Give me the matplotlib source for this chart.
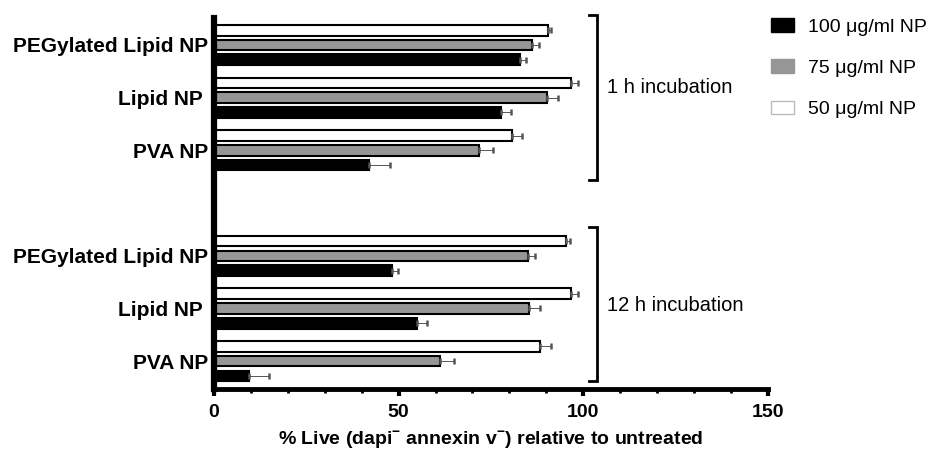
import numpy as np
import matplotlib.pyplot as plt
from matplotlib.patches import Patch

plt.rcParams['font.family'] = ['Liberation Sans', 'DejaVu Sans']
plt.rcParams['mathtext.fontset'] = 'custom'
plt.rcParams['mathtext.rm'] = 'Liberation Sans:bold'
plt.rcParams['mathtext.bf'] = 'Liberation Sans:bold'

labels = ['PEGylated Lipid NP', 'Lipid NP ', 'PVA NP',
          'PEGylated Lipid NP', 'Lipid NP ', 'PVA NP']
groups = ['1 h incubation', '12 h incubation']
series = ['100 μg/ml NP', '75 μg/ml NP', '50 μg/ml NP']

black_100 = [82.8, 77.8, 42.0, 48.1, 55.1, 9.5]
gray_75 = [86.2, 90.3, 71.9, 85.1, 85.4, 61.3]
white_50 = [90.4, 96.8, 80.8, 95.4, 96.8, 88.4]
err_100 = [1.8, 2.7, 5.7, 1.6, 2.7, 5.5]
err_75 = [1.8, 2.9, 3.7, 1.9, 3.0, 3.8]
err_50 = [1.0, 1.8, 2.7, 1.1, 1.8, 3.0]

ypos = np.array([0, 1, 2, 4, 5, 6])
off = 0.28
h = 0.2

fig = plt.figure(figsize=(9.35, 4.53), dpi=100)
ax = fig.add_axes([0.229, 0.141, 0.592, 0.819])

for vals, errs, d, col in [(white_50, err_50, -off, 'white'),
                           (gray_75, err_75, 0, '#969696'),
                           (black_100, err_100, off, 'black')]:
    ax.barh(ypos + d, vals, height=h, color=col, edgecolor='black', linewidth=1.5)
    ax.errorbar(vals, ypos + d, xerr=[np.zeros(len(vals)), errs], fmt='none',
                ecolor='#555555', elinewidth=0.7, capsize=2.5, capthick=1.8)

ax.set_xlim(0, 150)
ax.set_ylim(6.53, -0.51)
ax.set_yticks(ypos)
ax.set_yticklabels(labels, fontsize=15, fontweight='bold')
ax.tick_params(axis='y', length=0, pad=4)
ax.set_xticks([0, 50, 100, 150])
ax.set_xticks(np.arange(0, 151, 10), minor=True)
ax.tick_params(axis='x', which='major', direction='out', length=5, width=3, labelsize=14, pad=6)
ax.tick_params(axis='x', which='minor', direction='out', length=3, width=2)
for t in ax.get_xticklabels():
    t.set_fontweight('bold')
ax.spines['top'].set_visible(False)
ax.spines['right'].set_visible(False)
ax.spines['left'].set_linewidth(4.5)
ax.spines['bottom'].set_linewidth(3.5)
ax.set_xlabel(r'% Live (dapi$^{-}$ annexin v$^{-}$) relative to untreated',
              fontsize=14, fontweight='bold', labelpad=6)

# group brackets
for top, bot, ty, name in [(-0.57, 2.56, 0.80, groups[0]), (3.45, 6.38, 4.94, groups[1])]:
    ax.plot([101.6, 103.7, 103.7, 101.6], [top, top, bot, bot], color='black',
            linewidth=2, clip_on=False, solid_joinstyle='miter')
    ax.text(106.5, ty, name, fontsize=14.5, va='center', ha='left')

handles = [Patch(facecolor='black', edgecolor='black'),
           Patch(facecolor='#969696', edgecolor='#969696'),
           Patch(facecolor='white', edgecolor='#bbbbbb')]
fig.legend(handles, series, loc='upper left', bbox_to_anchor=(0.806, 0.998),
           frameon=False, fontsize=14, handlelength=1.2, handleheight=0.72,
           labelspacing=1.2, handletextpad=0.7)

fig.savefig('out.png', dpi=100)
